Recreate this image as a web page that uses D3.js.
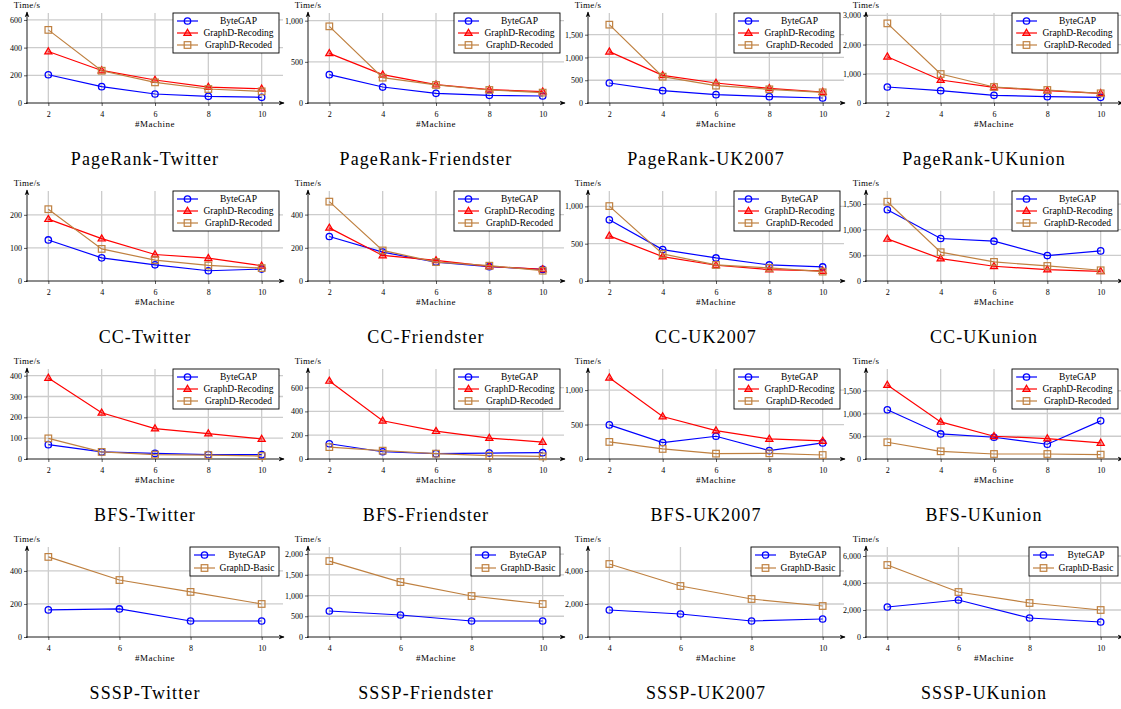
<!DOCTYPE html>
<html>
<head>
<meta charset="utf-8">
<script src="https://cdn.jsdelivr.net/npm/d3@7/dist/d3.min.js"></script>
<style>
  html, body { margin: 0; padding: 0; background: #fff; }
  svg { display: block; }
  text { font-family: "Liberation Serif", "Times New Roman", serif; fill: #000; }
</style>
</head>
<body>
<svg id="chart" width="1121" height="709"></svg>
<script>
// ---------- data ----------
const machines = [2, 4, 6, 8, 10];
const ssspMachines = [4, 6, 8, 10];
const seriesNames = ["ByteGAP", "GraphD-Recoding", "GraphD-Recoded"];
const ssspSeriesNames = ["ByteGAP", "GraphD-Basic"];

// PageRank
const prTwitter    = [[204,118,65,48,41],[372,235,166,115,103],[528,233,149,101,84]];
const prFriendster = [[344,194,117,93,85],[603,344,223,162,138],[931,308,219,158,126]];
const prUK2007     = [[439,271,183,139,110],[1127,608,439,322,242],[1720,578,381,300,234]];
const prUKunion    = [[547,422,262,217,194],[1585,787,536,422,331],[2725,992,547,445,331]];
// CC
const ccTwitter    = [[124,70,49,31,36],[187,128,80,69,46],[217,97,63,47,39]];
const ccFriendster = [[268,174,114,86,70],[320,154,124,88,70],[478,184,114,92,62]];
const ccUK2007     = [[820,421,309,215,188],[605,327,211,152,135],[1004,363,215,175,126]];
const ccUKunion    = [[1389,828,776,496,587],[821,437,287,222,189],[1545,561,372,293,209]];
// BFS
const bfsTwitter    = [[69,34,27,21,21],[389,222,146,122,96],[99,34,21,19,14]];
const bfsFriendster = [[128,61,45,50,53],[656,321,234,176,142],[100,70,45,28,22]];
const bfsUK2007     = [[495,238,330,121,233],[1180,617,413,291,262],[248,146,78,83,58]];
const bfsUKunion    = [[1081,551,478,324,838],[1625,816,500,449,353],[368,169,110,110,96]];
// SSSP
const ssspTwitter    = [[164,170,97,97],[485,345,273,200]];
const ssspFriendster = [[627,530,386,386],[1831,1325,988,795]];
const ssspUK2007     = [[1636,1394,970,1091],[4424,3091,2303,1879]];
const ssspUKunion    = [[2222,2741,1407,1111],[5333,3333,2519,2000]];

// y tick labels per panel
const ticksPR  = [[0,200,400,600],[0,500,1000],[0,500,1000,1500],[0,1000,2000,3000]];
const ticksCC  = [[0,100,200],[0,200,400],[0,500,1000],[0,500,1000,1500]];
const ticksBFS = [[0,100,200,300,400],[0,200,400,600],[0,500,1000],[0,500,1000,1500]];
const ticksSSSP= [[0,200,400],[0,500,1000,1500,2000],[0,2000,4000],[0,2000,4000,6000]];
// upper ends of y axes
const ymaxPR   = [650, 1093, 1976, 3080];
const ymaxCC   = [272, 542, 1206, 1754];
const ymaxBFS  = [432, 756, 1306, 1978];
const ymaxSSSP = [545, 2170, 5455, 6667];

const titlesPR   = ["PageRank-Twitter","PageRank-Friendster","PageRank-UK2007","PageRank-UKunion"];
const titlesCC   = ["CC-Twitter","CC-Friendster","CC-UK2007","CC-UKunion"];
const titlesBFS  = ["BFS-Twitter","BFS-Friendster","BFS-UK2007","BFS-UKunion"];
const titlesSSSP = ["SSSP-Twitter","SSSP-Friendster","SSSP-UK2007","SSSP-UKunion"];

// ---------- layout & style ----------
const colX = [27, 308, 588, 866];   // y-axis x positions
const rowY = [103, 281, 459, 637];  // x-axis y positions
const W = 256, H = 90;
const colors = { "ByteGAP": "#0000ff", "GraphD-Recoding": "#ff0000", "GraphD-Recoded": "#bf8040", "GraphD-Basic": "#bf8040" };
const markers = { "ByteGAP": "circle", "GraphD-Recoding": "triangle", "GraphD-Recoded": "square", "GraphD-Basic": "square" };

const svg = d3.select("#chart");
svg.append("rect").attr("width", 1121).attr("height", 709).attr("fill", "#fff");

const defs = svg.append("defs");
defs.append("marker").attr("id", "arrow")
  .attr("viewBox", "0 0 10 10").attr("refX", 9).attr("refY", 5)
  .attr("markerWidth", 6).attr("markerHeight", 6).attr("markerUnits", "userSpaceOnUse")
  .attr("orient", "auto")
  .append("path").attr("d", "M0,1 L10,5 L0,9 L3,5 Z").attr("fill", "#000");

function drawMarker(g, type, x, y, color) {
  if (type === "circle") {
    g.append("circle").attr("cx", x).attr("cy", y).attr("r", 3.2)
      .attr("fill", "none").attr("stroke", color).attr("stroke-width", 1.3);
  } else if (type === "square") {
    g.append("rect").attr("x", x - 3.3).attr("y", y - 3.3).attr("width", 6.6).attr("height", 6.6)
      .attr("fill", "none").attr("stroke", color).attr("stroke-width", 1.2);
  } else {
    const s = 3.8;
    g.append("path")
      .attr("d", `M${x},${y - s} L${x + s * 0.95},${y + s * 0.62} L${x - s * 0.95},${y + s * 0.62} Z`)
      .attr("fill", color).attr("fill-opacity", 0.35).attr("stroke", color).attr("stroke-width", 1.2);
  }
}

function panel(col, row, xs, names, data, ticks, ymax, title) {
  const x0 = colX[col], yb = rowY[row];
  const lo = xs[0], hi = xs[xs.length - 1], pad = (hi - lo) * 0.1;
  const x = d3.scaleLinear().domain([lo - pad, hi + pad]).range([x0, x0 + W]);
  const y = d3.scaleLinear().domain([0, ymax]).range([yb, yb - H]);
  const g = svg.append("g");

  // grid
  g.append("g").selectAll("line").data(ticks.filter(t => t > 0)).join("line")
    .attr("x1", x0).attr("x2", x0 + W).attr("y1", d => y(d)).attr("y2", d => y(d))
    .attr("stroke", "#cccccc").attr("stroke-width", 1.3);
  g.append("g").selectAll("line").data(xs).join("line")
    .attr("x1", d => x(d)).attr("x2", d => x(d)).attr("y1", yb).attr("y2", yb - H)
    .attr("stroke", "#cccccc").attr("stroke-width", 1.3);

  // axes
  const yAxis = g.append("g").attr("transform", `translate(${x0},0)`)
    .call(d3.axisLeft(y).tickValues(ticks).tickFormat(d3.format(",")).tickSize(3).tickSizeOuter(0).tickPadding(2));
  const xAxis = g.append("g").attr("transform", `translate(0,${yb})`)
    .call(d3.axisBottom(x).tickValues(xs).tickFormat(d3.format("d")).tickSize(3).tickSizeOuter(0).tickPadding(5));
  [yAxis, xAxis].forEach(a => {
    a.select(".domain").remove();
    a.selectAll("text").style("font-family", "Liberation Serif, serif").style("font-size", "8px").attr("fill", "#222");
    a.selectAll("line").attr("stroke", "#333").attr("stroke-width", 0.8);
  });
  g.append("line").attr("x1", x0).attr("x2", x0).attr("y1", yb + 1).attr("y2", yb - H - 1)
    .attr("stroke", "#000").attr("stroke-width", 0.9).attr("marker-end", "url(#arrow)");
  g.append("line").attr("x1", x0 - 1).attr("x2", x0 + W + 1).attr("y1", yb).attr("y2", yb)
    .attr("stroke", "#000").attr("stroke-width", 0.9).attr("marker-end", "url(#arrow)");

  // labels
  g.append("text").attr("x", x0).attr("y", yb - H - 5).attr("text-anchor", "middle")
    .style("font-size", "9px").style("letter-spacing", "0.3px").text("Time/s");
  g.append("text").attr("x", x0 + W / 2).attr("y", yb + 24).attr("text-anchor", "middle")
    .style("font-size", "9px").style("letter-spacing", "0.5px").attr("fill", "#222").text("#Machine");
  g.append("text").attr("x", x0 + W / 2 - 10).attr("y", yb + 62).attr("text-anchor", "middle")
    .style("font-size", "18px").style("letter-spacing", "1.1px").text(title);

  // series
  const line = d3.line().x((d, i) => x(xs[i])).y(d => y(d));
  names.forEach((name, si) => {
    const vals = data[si];
    const c = colors[name];
    g.append("path").datum(vals).attr("d", line)
      .attr("fill", "none").attr("stroke", c).attr("stroke-width", 1.2);
    const mg = g.append("g");
    vals.forEach((v, i) => drawMarker(mg, markers[name], x(xs[i]), y(v), c));
  });

  // legend
  const n = names.length;
  const lx = names.length === 3 ? x0 + 146 : x0 + 163;
  const lw = (x0 + 252) - lx;
  const ly = yb - H;
  const lh = n === 3 ? 40 : 29;
  const step = n === 3 ? 12 : 13;
  const lg = g.append("g");
  lg.append("rect").attr("x", lx).attr("y", ly).attr("width", lw).attr("height", lh)
    .attr("fill", "#fff").attr("stroke", "#000").attr("stroke-width", 0.9);
  names.forEach((name, i) => {
    const yy = ly + 8 + i * step;
    const c = colors[name];
    lg.append("line").attr("x1", lx + 4).attr("x2", lx + 25).attr("y1", yy).attr("y2", yy)
      .attr("stroke", c).attr("stroke-width", 1.2);
    drawMarker(lg, markers[name], lx + 14.5, yy, c);
    lg.append("text").attr("x", lx + 27 + (lw - 29) / 2).attr("y", yy + 3.2).attr("text-anchor", "middle")
      .style("font-size", "9.5px").text(name);
  });
}

const prData = [prTwitter, prFriendster, prUK2007, prUKunion];
const ccData = [ccTwitter, ccFriendster, ccUK2007, ccUKunion];
const bfsData = [bfsTwitter, bfsFriendster, bfsUK2007, bfsUKunion];
const ssspData = [ssspTwitter, ssspFriendster, ssspUK2007, ssspUKunion];

for (let c = 0; c < 4; c++) {
  panel(c, 0, machines, seriesNames, prData[c], ticksPR[c], ymaxPR[c], titlesPR[c]);
  panel(c, 1, machines, seriesNames, ccData[c], ticksCC[c], ymaxCC[c], titlesCC[c]);
  panel(c, 2, machines, seriesNames, bfsData[c], ticksBFS[c], ymaxBFS[c], titlesBFS[c]);
  panel(c, 3, ssspMachines, ssspSeriesNames, ssspData[c], ticksSSSP[c], ymaxSSSP[c], titlesSSSP[c]);
}
</script>
</body>
</html>
